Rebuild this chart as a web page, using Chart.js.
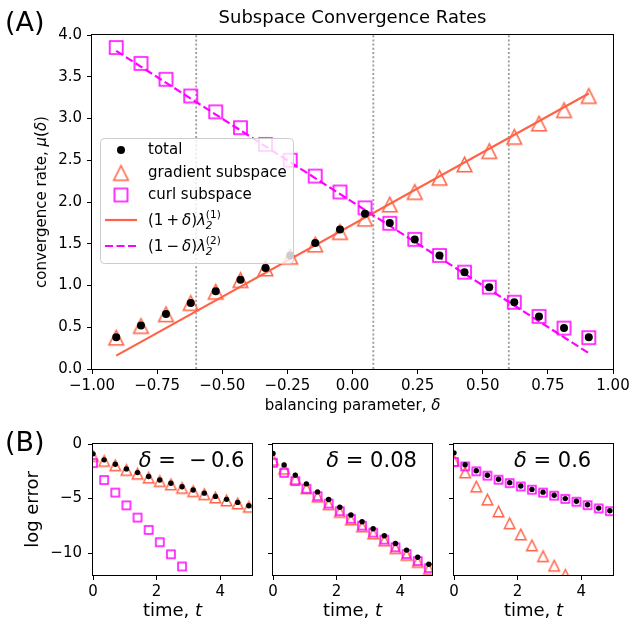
<!DOCTYPE html>
<html>
<head>
<meta charset="utf-8">
<title>Subspace Convergence Rates</title>
<script src="https://cdn.jsdelivr.net/npm/chart.js@4.4.1/dist/chart.umd.min.js"></script>
<style>
  html, body { margin: 0; padding: 0; background: #fff; }
  #fig { position: relative; width: 629px; height: 623px; overflow: hidden; }
  .cell { position: absolute; }
</style>
</head>
<body>
<div id="fig">
  <div class="cell" style="left:0;top:0;width:629px;height:420px"><canvas id="rates"></canvas></div>
  <div class="cell" style="left:0;top:420px;width:262px;height:203px"><canvas id="errNeg"></canvas></div>
  <div class="cell" style="left:262px;top:420px;width:180px;height:203px"><canvas id="errMid"></canvas></div>
  <div class="cell" style="left:442px;top:420px;width:187px;height:203px"><canvas id="errPos"></canvas></div>
</div>
<script>
// ---- panel (A): convergence rate vs balancing parameter ----
const deltas = [-0.907, -0.812, -0.716, -0.621, -0.525, -0.430, -0.334, -0.239, -0.143, -0.048,
                 0.048,  0.143,  0.239,  0.334,  0.430,  0.525,  0.621,  0.716,  0.812,  0.907];
const totalRate    = [0.38, 0.52, 0.66, 0.79, 0.93, 1.07, 1.21, 1.36, 1.51, 1.67,
                      1.86, 1.75, 1.55, 1.36, 1.16, 0.98, 0.80, 0.63, 0.49, 0.38];
const gradientRate = [0.375, 0.515, 0.655, 0.79, 0.925, 1.065, 1.205, 1.345, 1.49, 1.64,
                      1.80, 1.97, 2.12, 2.29, 2.45, 2.61, 2.78, 2.94, 3.10, 3.27];
const curlRate     = [3.85, 3.66, 3.47, 3.27, 3.08, 2.89, 2.69, 2.50, 2.31, 2.12,
                      1.93, 1.745, 1.553, 1.36, 1.16, 0.98, 0.80, 0.63, 0.49, 0.375];
const lineDeltas   = [-0.907, 0.907];
const gradientLine = [0.16, 3.30];   // (1+δ)λ2(1)
const curlLine     = [3.81, 0.19];   // (1-δ)λ2(2)
const markedDeltas = [-0.6, 0.08, 0.6];
const deltaTicks = [-1, -0.75, -0.5, -0.25, 0, 0.25, 0.5, 0.75, 1];
const rateTicks  = [0, 0.5, 1, 1.5, 2, 2.5, 3, 3.5, 4];

// ---- panel (B): log error over time ----
const times = [0, 0.35, 0.7, 1.05, 1.4, 1.75, 2.1, 2.45, 2.8, 3.15, 3.5, 3.85, 4.2, 4.55, 4.9];
const totalErrNeg = [-0.9, -1.45, -1.85, -2.28, -2.62, -2.98, -3.3, -3.6, -3.92, -4.22, -4.5, -4.8, -5.07, -5.35, -5.65];
const gradErrNeg  = [-1.1, -1.55, -1.95, -2.38, -2.72, -3.08, -3.4, -3.7, -4.02, -4.32, -4.6, -4.9, -5.17, -5.45, -5.75];
const curlErrNeg  = [-1.75, -3.3, -4.45, -5.62, -6.74, -7.87, -9.0, -10.1, -11.22];
const totalErrMid = [-0.86, -1.93, -2.85, -3.65, -4.39, -5.09, -5.8, -6.5, -7.12, -7.76, -8.4, -9.11, -9.72, -10.37, -11.01];
const gradErrMid  = [-1.45, -2.27, -3.19, -4.05, -4.82, -5.52, -6.22, -6.92, -7.55, -8.2, -8.84, -9.54, -10.16, -10.8, -11.45];
const curlErrMid  = [-1.72, -2.64, -3.4, -4.1, -4.78, -5.46, -6.15, -6.85, -7.48, -8.12, -8.76, -9.46, -10.08, -10.72, -11.37];
const totalErrPos = [-0.81, -1.9, -2.45, -2.86, -3.23, -3.54, -3.85, -4.16, -4.41, -4.69, -5.0, -5.25, -5.56, -5.87, -6.12];
const gradErrPos  = [-1.52, -2.6, -3.9, -5.09, -6.18, -7.27, -8.29, -9.29, -10.28, -11.15, -11.99];
const curlErrPos  = [-1.65, -2.05, -2.5, -2.9, -3.27, -3.58, -3.89, -4.19, -4.45, -4.73, -5.03, -5.29, -5.6, -5.9, -6.15];
const timeTicks = [0, 2, 4];
const errTicks  = [0, -5, -10];

const TOMATO = '#ff6347';
const MAGENTA = '#ff00ff';
const FAM = '"DejaVu Sans", sans-serif';
const f = (px, it) => (it ? 'italic ' : '') + px + 'px ' + FAM;
const fmt = (v, d) => v.toFixed(d).replace('-', '\u2212');
const pts = (xs, ys) => ys.map((y, i) => ({ x: xs[i], y: y }));

// matplotlib-like open markers
function markerCanvas(shape, size, color, lw) {
  const pad = Math.ceil(lw) + 1;
  const c = document.createElement('canvas');
  c.width = c.height = Math.ceil(size) + 2 * pad;
  const g = c.getContext('2d');
  const m = c.width / 2, h = size / 2;
  g.strokeStyle = color;
  g.lineWidth = lw;
  g.beginPath();
  if (shape === 'tri') {
    g.moveTo(m, m - h); g.lineTo(m - h, m + h); g.lineTo(m + h, m + h); g.closePath();
  } else {
    g.rect(m - h, m - h, size, size);
  }
  g.stroke();
  return c;
}

function richWidth(ctx, segs) {
  let w = 0;
  for (const s of segs) {
    let sw = 0;
    for (const p of (s.stack || [s])) { ctx.font = p.font; sw = Math.max(sw, ctx.measureText(p.text).width); }
    w += sw;
  }
  return w;
}

function drawRich(ctx, x, y, segs, align) {
  ctx.save();
  ctx.fillStyle = '#000';
  ctx.textBaseline = 'middle';
  ctx.textAlign = 'left';
  if (align === 'center') x -= richWidth(ctx, segs) / 2;
  for (const s of segs) {
    let sw = 0;
    for (const p of (s.stack || [s])) {
      ctx.font = p.font;
      ctx.fillText(p.text, x, y + (p.dy || 0));
      sw = Math.max(sw, ctx.measureText(p.text).width);
    }
    x += sw;
  }
  ctx.restore();
}

function drawRotated(ctx, x, y, segs) {
  ctx.save();
  ctx.translate(x, y);
  ctx.rotate(-Math.PI / 2);
  drawRich(ctx, 0, 0, segs, 'center');
  ctx.restore();
}

function frame(ctx, a) {
  ctx.save();
  ctx.strokeStyle = '#000';
  ctx.lineWidth = 1;
  ctx.strokeRect(Math.round(a.left) - 0.5, Math.round(a.top) - 0.5,
                 Math.round(a.right - a.left) + 1, Math.round(a.bottom - a.top) + 1);
  ctx.restore();
}

function tickAxis(ticks, min, max, fitSize, horizontal, labelFn, pad) {
  return {
    type: 'linear', min: min, max: max,
    afterBuildTicks: s => { s.ticks = ticks.map(v => ({ value: v })); },
    afterFit: s => {
      if (horizontal) { s.height = fitSize; s.paddingLeft = 0; s.paddingRight = 0; }
      else { s.width = fitSize; s.paddingTop = 0; s.paddingBottom = 0; }
    },
    ticks: {
      display: !!labelFn,
      callback: v => labelFn ? labelFn(v) : '',
      font: { family: FAM, size: 15 }, color: '#000',
      padding: pad, maxRotation: 0, minRotation: 0, autoSkip: false
    },
    grid: { display: true, drawOnChartArea: false, drawTicks: true, tickLength: 5, tickColor: '#000', tickWidth: 1 },
    border: { display: false }
  };
}

const mathSub = (n) => ({ stack: [
  { text: '2', font: f(10.5, true), dy: 5 },
  { text: '(' + n + ')', font: f(10.5), dy: -6 }
]});

// ---------------- panel (A) ----------------
const triBig = markerCanvas('tri', 14.5, TOMATO, 1.6);
const sqBig = markerCanvas('sq', 13, MAGENTA, 1.6);

const ratesDecor = {
  id: 'ratesDecor',
  afterDraw(chart) {
    const { ctx, chartArea: a } = chart;
    frame(ctx, a);
    drawRich(ctx, (a.left + a.right) / 2, 18, [{ text: 'Subspace Convergence Rates', font: f(18) }], 'center');
    drawRich(ctx, 5, 23.5, [{ text: '(A)', font: f(27) }]);
    drawRich(ctx, (a.left + a.right) / 2, 406, [
      { text: 'balancing parameter, ', font: f(15) }, { text: 'δ', font: f(15, true) }], 'center');
    drawRotated(ctx, 42, (a.top + a.bottom) / 2, [
      { text: 'convergence rate, ', font: f(15) }, { text: 'μ', font: f(15, true) },
      { text: '(', font: f(15) }, { text: 'δ', font: f(15, true) }, { text: ')', font: f(15) }]);

    // legend box
    ctx.save();
    const bx = 100.5, by = 138.5, bw = 193, bh = 125, r = 4;
    ctx.beginPath();
    ctx.moveTo(bx + r, by);
    ctx.arcTo(bx + bw, by, bx + bw, by + bh, r);
    ctx.arcTo(bx + bw, by + bh, bx, by + bh, r);
    ctx.arcTo(bx, by + bh, bx, by, r);
    ctx.arcTo(bx, by, bx + bw, by, r);
    ctx.closePath();
    ctx.fillStyle = 'rgba(255,255,255,0.8)';
    ctx.fill();
    ctx.strokeStyle = '#cccccc';
    ctx.lineWidth = 1;
    ctx.stroke();

    const mx = 121, tx = 148;
    ctx.fillStyle = '#000';
    ctx.beginPath(); ctx.arc(mx, 150, 4, 0, Math.PI * 2); ctx.fill();
    ctx.drawImage(triBig, mx - triBig.width / 2, 173 - triBig.height / 2);
    ctx.drawImage(sqBig, mx - sqBig.width / 2, 195 - sqBig.height / 2);
    ctx.lineWidth = 2.2;
    ctx.strokeStyle = TOMATO;
    ctx.beginPath(); ctx.moveTo(105, 220); ctx.lineTo(137, 220); ctx.stroke();
    ctx.strokeStyle = MAGENTA;
    ctx.setLineDash([8, 3.5]);
    ctx.beginPath(); ctx.moveTo(105, 246); ctx.lineTo(137, 246); ctx.stroke();
    ctx.restore();

    drawRich(ctx, tx, 150, [{ text: 'total', font: f(15) }]);
    drawRich(ctx, tx, 173, [{ text: 'gradient subspace', font: f(15) }]);
    drawRich(ctx, tx, 195, [{ text: 'curl subspace', font: f(15) }]);
    drawRich(ctx, tx, 221, [
      { text: '(1\u2009+\u2009', font: f(15) }, { text: 'δ', font: f(15, true) },
      { text: ')', font: f(15) }, { text: 'λ', font: f(15, true) }, mathSub(1)]);
    drawRich(ctx, tx, 247, [
      { text: '(1\u2009\u2212\u2009', font: f(15) }, { text: 'δ', font: f(15, true) },
      { text: ')', font: f(15) }, { text: 'λ', font: f(15, true) }, mathSub(2)]);
  }
};

new Chart(document.getElementById('rates'), {
  type: 'scatter',
  data: {
    datasets: [
      { label: 'total', data: pts(deltas, totalRate), pointStyle: 'circle', pointRadius: 4,
        pointBackgroundColor: '#000', pointBorderWidth: 0 },
      { label: 'gradient subspace', data: pts(deltas, gradientRate), pointStyle: triBig, pointRadius: 7 },
      { label: 'curl subspace', data: pts(deltas, curlRate), pointStyle: sqBig, pointRadius: 7 },
      { label: '(1+δ)λ2(1)', data: pts(lineDeltas, gradientLine), showLine: true,
        borderColor: TOMATO, borderWidth: 2.2, pointRadius: 0 },
      { label: '(1-δ)λ2(2)', data: pts(lineDeltas, curlLine), showLine: true,
        borderColor: MAGENTA, borderWidth: 2.2, borderDash: [8, 3.5], pointRadius: 0 },
      ...markedDeltas.map(d => ({
        data: [{ x: d, y: rateTicks[0] }, { x: d, y: rateTicks[rateTicks.length - 1] }],
        showLine: true, borderColor: '#9a9a9a', borderWidth: 1.8, borderDash: [2, 2.2], pointRadius: 0
      }))
    ]
  },
  options: {
    responsive: true,
    maintainAspectRatio: false,
    animation: false,
    layout: { padding: { left: 0, top: 35, right: 16, bottom: 0 } },
    plugins: { legend: { display: false }, tooltip: { enabled: false } },
    scales: {
      x: tickAxis(deltaTicks, -1, 1, 51, true, v => fmt(v, 2), 3),
      y: tickAxis(rateTicks, 0, 4, 92, false, v => fmt(v, 1), 5)
    }
  },
  plugins: [ratesDecor]
});

// ---------------- panel (B) ----------------
function errPanel(id, total, grad, curl, label, yWidth, padRight, first) {
  const tri = markerCanvas('tri', 10.5, TOMATO, 1.5);
  const sq = markerCanvas('sq', 8, MAGENTA, 1.5);
  const decor = {
    id: 'errDecor',
    afterDraw(chart) {
      const { ctx, chartArea: a, scales } = chart;
      frame(ctx, a);
      drawRich(ctx, scales.x.getPixelForValue(3.1), scales.y.getPixelForValue(-1.65), label, 'center');
      drawRich(ctx, (a.left + a.right) / 2, 191, [
        { text: 'time, ', font: f(18) }, { text: 't', font: f(18, true) }], 'center');
      if (first) {
        drawRich(ctx, 5, 24, [{ text: '(B)', font: f(27) }]);
        drawRotated(ctx, 33, (a.top + a.bottom) / 2, [{ text: 'log error', font: f(18) }]);
      }
    }
  };
  return new Chart(document.getElementById(id), {
    type: 'scatter',
    data: {
      datasets: [
        { data: pts(times, total), pointStyle: 'circle', pointRadius: 2.7,
          pointBackgroundColor: '#000', pointBorderWidth: 0, clip: 0 },
        { data: pts(times, curl), pointStyle: sq, pointRadius: 4, clip: 0 },
        { data: pts(times, grad), pointStyle: tri, pointRadius: 5, clip: 0 }
      ]
    },
    options: {
      responsive: true,
      maintainAspectRatio: false,
      animation: false,
      layout: { padding: { left: 0, top: 24, right: padRight, bottom: 0 } },
      plugins: { legend: { display: false }, tooltip: { enabled: false } },
      scales: {
        x: tickAxis(timeTicks, 0, 5, 48, true, v => String(v), 3),
        y: tickAxis(errTicks, -12, 0, yWidth, false, first ? (v => fmt(v, 0)) : null, 6)
      }
    },
    plugins: [decor]
  });
}

errPanel('errNeg', totalErrNeg, gradErrNeg, curlErrNeg,
  [{ text: 'δ', font: f(21, true) }, { text: ' =  \u2212\u20090.6', font: f(21) }], 93, 10, true);
errPanel('errMid', totalErrMid, gradErrMid, curlErrMid,
  [{ text: 'δ', font: f(21, true) }, { text: ' = 0.08', font: f(21) }], 11, 10, false);
errPanel('errPos', totalErrPos, gradErrPos, curlErrPos,
  [{ text: 'δ', font: f(21, true) }, { text: ' = 0.6', font: f(21) }], 12, 16, false);
</script>
</body>
</html>
